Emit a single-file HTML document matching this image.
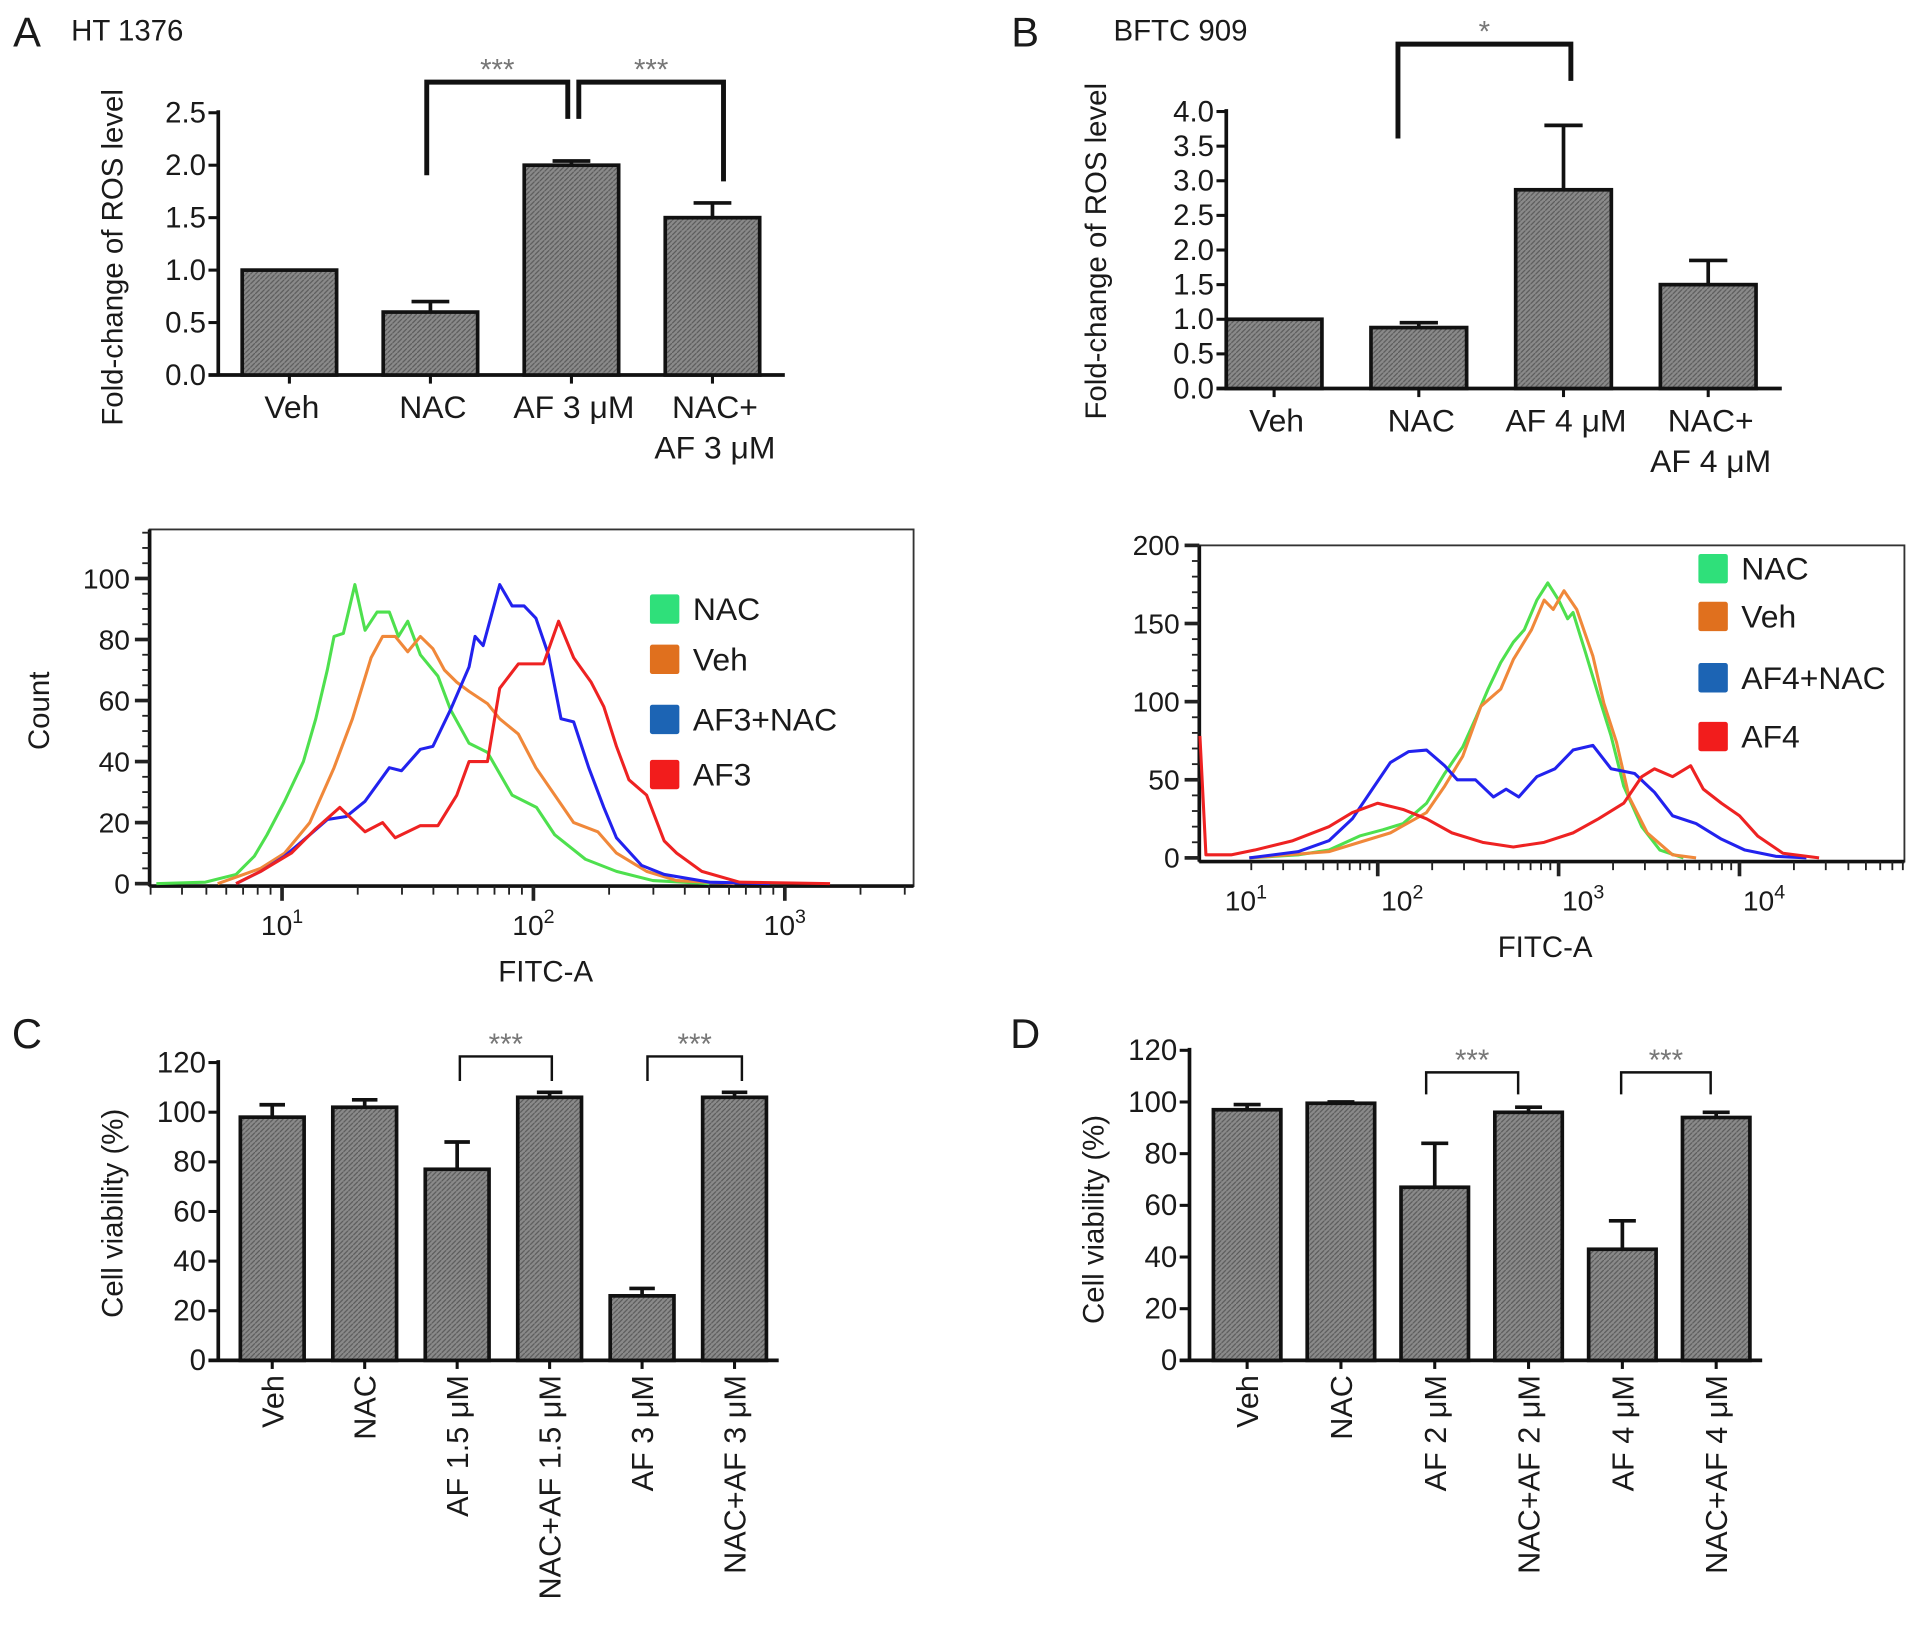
<!DOCTYPE html>
<html><head><meta charset="utf-8"><title>ROS and cell viability figure</title>
<style>
html,body{margin:0;padding:0;background:#fff;}
svg{display:block;font-family:"Liberation Sans",sans-serif;}
</style></head>
<body>
<svg id="fig" width="1913" height="1630" viewBox="0 0 1560 1330" preserveAspectRatio="none" xmlns="http://www.w3.org/2000/svg">
<defs>
<pattern id="hatch" width="4" height="4" patternUnits="userSpaceOnUse">
<rect width="4" height="4" fill="#8a8a8a"/><path d="M0,4 L4,0" stroke="#5a5a5a" stroke-width="1"/>
</pattern>
</defs>
</svg>
<script>
// ---------- Panel A bar data ----------
const aCats = ["Veh","NAC","AF 3 \u03bcM","NAC+|AF 3 \u03bcM"];
const aVals = [1.0, 0.6, 2.0, 1.5];
const aErrs = [0, 0.1, 0.04, 0.14];
const aTicks = [0,0.5,1.0,1.5,2.0,2.5];
// ---------- Panel B bar data ----------
const bCats = ["Veh","NAC","AF 4 \u03bcM","NAC+|AF 4 \u03bcM"];
const bVals = [1.0, 0.88, 2.87, 1.5];
const bErrs = [0, 0.07, 0.93, 0.35];
const bTicks = [0,0.5,1.0,1.5,2.0,2.5,3.0,3.5,4.0];
// ---------- Panel C bar data ----------
const cCats = ["Veh","NAC","AF 1.5 \u03bcM","NAC+AF 1.5 \u03bcM","AF 3 \u03bcM","NAC+AF 3 \u03bcM"];
const cVals = [98, 102, 77, 106, 26, 106];
const cErrs = [5, 3, 11, 2, 3, 2];
const cTicks = [0,20,40,60,80,100,120];
// ---------- Panel D bar data ----------
const dCats = ["Veh","NAC","AF 2 \u03bcM","NAC+AF 2 \u03bcM","AF 4 \u03bcM","NAC+AF 4 \u03bcM"];
const dVals = [97, 99.5, 67, 96, 43, 94];
const dErrs = [2, 0.5, 17, 2, 11, 2];
const dTicks = [0,20,40,60,80,100,120];
// ---------- Histogram A (log10 FITC, count) ----------
const hAticks = [0,20,40,60,80,100];
const hAxTicks = [1,2,3];
const hANacLog = [0.5,0.695,0.817,0.89,0.94,1.01,1.085,1.134,1.18,1.207,1.244,1.29,1.33,1.378,1.427,1.463,1.5,1.55,1.62,1.67,1.744,1.817,1.915,2.012,2.085,2.207,2.33,2.475,2.7];
const hANacCnt = [0,0.5,3,9,16,27,40,54,70,81,82,98,83,89,89,81,86,75,68,57,46,43,29,25,16,8,4,1,0];
const hAVehLog = [0.744,0.915,1.01,1.11,1.207,1.28,1.354,1.4,1.45,1.5,1.55,1.6,1.646,1.695,1.744,1.817,1.866,1.94,2.01,2.085,2.16,2.256,2.33,2.45,2.57,2.8];
const hAVehCnt = [0,5,10,20,38,54,74,81,81,76,81,77,70,66,63,59,54,49,38,29,20,17,10,4,1,0];
const hABlueLog = [0.817,0.915,1.01,1.11,1.18,1.256,1.33,1.427,1.475,1.55,1.6,1.67,1.744,1.768,1.8,1.866,1.915,1.963,2.01,2.06,2.11,2.16,2.22,2.28,2.33,2.43,2.52,2.7,2.94];
const hABlueCnt = [0,4,9,16,21,22,27,38,37,44,45,57,71,81,78,98,91,91,87,75,54,53,38,25,15,6,3,0.5,0];
const hARedLog = [0.817,0.915,1.037,1.134,1.23,1.33,1.4,1.45,1.55,1.62,1.695,1.744,1.817,1.866,1.94,2.04,2.1,2.16,2.23,2.28,2.33,2.38,2.45,2.52,2.57,2.67,2.82,3.18];
const hARedCnt = [0,4,10,18,25,17,20,15,19,19,29,40,40,64,72,72,86,74,66,58,45,34,29,14,10,4,0.5,0];
// ---------- Histogram B ----------
const hBticks = [0,50,100,150,200];
const hBxTicks = [1,2,3,4];
const hBNacLog = [1.29,1.56,1.73,1.9,2.03,2.14,2.27,2.37,2.47,2.54,2.61,2.68,2.75,2.81,2.88,2.94,3.0,3.05,3.08,3.15,3.22,3.29,3.36,3.46,3.56,3.69];
const hBNacCnt = [0,2,5,14,18,22,35,54,71,89,108,125,138,146,165,176,165,153,157,131,104,78,46,20,5,0];
const hBVehLog = [1.29,1.73,2.07,2.27,2.37,2.47,2.57,2.68,2.75,2.85,2.92,2.97,3.03,3.1,3.19,3.25,3.32,3.39,3.49,3.63,3.76];
const hBVehCnt = [0,4,16,29,46,65,97,108,127,146,165,159,171,159,129,99,74,39,16,2,0];
const hBBlueLog = [1.29,1.56,1.73,1.86,1.97,2.07,2.17,2.27,2.37,2.44,2.54,2.64,2.71,2.78,2.88,2.98,3.08,3.19,3.29,3.42,3.53,3.63,3.76,3.9,4.03,4.2,4.37];
const hBBlueCnt = [0,4,11,25,44,61,68,69,59,50,50,39,44,39,52,57,69,72,57,54,42,27,22,12,5,1,0];
const hBRedLog = [1.017,1.05,1.19,1.32,1.53,1.73,1.86,2.0,2.14,2.27,2.41,2.58,2.75,2.92,3.08,3.22,3.36,3.46,3.53,3.63,3.73,3.8,3.9,4.0,4.1,4.24,4.44];
const hBRedCnt = [78,2,2,5,11,20,29,35,31,25,16,10,7,10,16,25,35,52,57,52,59,44,35,27,14,3,0];

const NS = "http://www.w3.org/2000/svg";
const svg = document.getElementById("fig");
function mk(tag, attrs, parent){
  const e = document.createElementNS(NS, tag);
  for (const k in attrs) e.setAttribute(k, attrs[k]);
  (parent || svg).appendChild(e);
  return e;
}
function txt(str, x, y, size, anchor, parent){
  const t = mk("text", {x:x, y:y, "font-size":size, "text-anchor":anchor||"middle", fill:"#1a1a1a"}, parent);
  t.textContent = str;
  return t;
}
function supTxt(base, exp, x, y, parent){
  const t = mk("text", {x:x, y:y, "font-size":23, "text-anchor":"middle", fill:"#1a1a1a"}, parent);
  const s1 = mk("tspan", {}, t); s1.textContent = base;
  const s2 = mk("tspan", {dy:-10, "font-size":16}, t); s2.textContent = exp;
  return t;
}

// ---------- Bar chart ----------
function barChart(cfg, cats, vals, errs, ticks){
  const g = mk("g", {});
  
  
  const ys = v => cfg.y0 - (v - ticks[0]) / (ticks[ticks.length-1] - ticks[0]) * (cfg.y0 - cfg.yTop);
  const xs = i => cfg.cx0 + i * cfg.step;
  const ya = mk("line", {x1:cfg.ax, y1:cfg.yTop-2, x2:cfg.ax, y2:cfg.y0, stroke:"#111", "stroke-width":3}, g);
  
  
  const xa = mk("line", {x1:cfg.ax-8, y1:cfg.y0, x2:cfg.axEnd, y2:cfg.y0, stroke:"#111", "stroke-width":3}, g);
  
  
  ticks.forEach(t => {
    mk("line", {x1:cfg.ax-8, y1:ys(t), x2:cfg.ax, y2:ys(t), stroke:"#111", "stroke-width":2.5}, g);
    const tl = txt(cfg.fmt(t), cfg.ax-10, ys(t)+8, 24, "end", g);
    
    
  });
  vals.forEach((v,i) => {
    const cx = xs(i);
    const b = mk("rect", {x:cx-cfg.bw/2, y:ys(v), width:cfg.bw, height:cfg.y0-ys(v), fill:"url(#hatch)", stroke:"#111", "stroke-width":3}, g);
    
    
    if (errs[i] > 0){
      const eb = mk("path", {d:`M${cx},${ys(v)} V${ys(v+errs[i])} M${cx-cfg.bw*0.2},${ys(v+errs[i])} H${cx+cfg.bw*0.2}`, stroke:"#111", "stroke-width":3, fill:"none"}, g);
      
      
    }
    mk("line", {x1:cx, y1:cfg.y0, x2:cx, y2:cfg.y0+7, stroke:"#111", "stroke-width":2.5}, g);
    if (cfg.rotated){
      const t = txt(cats[i], 0, 0, 25, "end", g);
      t.setAttribute("transform", `translate(${cx+9},${cfg.y0+12}) rotate(-90)`);
      
      
    } else {
      cats[i].split("|").forEach((line, k) => {
        const t = txt(line, cx+2, cfg.y0+35+k*33, 26, "middle", g);
        
        
      });
    }
  });
  const yt = txt(cfg.ytitle, 0, 0, 24, "middle", g);
  yt.setAttribute("transform", `translate(${cfg.ytx},${cfg.yty}) rotate(-90)`);
  
  
  return {g, xs, ys};
}
function bracket(g, x1, x2, yTop, leg1, leg2, stars, sw){
  const p = mk("path", {d:`M${x1},${leg1} V${yTop} H${x2} V${leg2}`, stroke:"#111", "stroke-width":sw, fill:"none"}, g);
  
  
  const s = txt(stars, (x1+x2)/2, yTop-2, 24, "middle", g);
  s.setAttribute("fill", "#777");
  
  
}

[["A",22,38],["B",836,38],["C",22,855],["D",836,855]].forEach(p => {
  const t = txt(p[0], p[1], p[2], 34, "middle");
  
  
});
const tA = txt("HT 1376", 58, 33, 24, "start");


const tB = txt("BFTC 909", 908, 33, 24, "start");



const A = barChart({name:"ros-bar-chart-a", ax:178, axEnd:640, y0:306, yTop:92, cx0:236, step:115, bw:77, fmt:v=>v.toFixed(1), ytitle:"Fold-change of ROS level", ytx:100, yty:210}, aCats, aVals, aErrs, aTicks);
bracket(A.g, 348, 463, 67, 143, 97, "***", 4);
bracket(A.g, 472, 590, 67, 97, 148, "***", 4);
const B = barChart({name:"ros-bar-chart-b", ax:1000, axEnd:1453, y0:317, yTop:91, cx0:1039, step:118, bw:78, fmt:v=>v.toFixed(1), ytitle:"Fold-change of ROS level", ytx:902, yty:205}, bCats, bVals, bErrs, bTicks);
bracket(B.g, 1140, 1281, 36, 113, 66, "*", 4);
const C = barChart({name:"viability-bar-chart-c", ax:178, axEnd:635, y0:1110, yTop:867, cx0:222, step:75.4, bw:52, fmt:v=>String(v), ytitle:"Cell viability (%)", ytx:100, yty:990, rotated:true}, cCats, cVals, cErrs, cTicks);
bracket(C.g, 375, 450, 862, 882, 882, "***", 2);
bracket(C.g, 528, 605, 862, 882, 882, "***", 2);
const D = barChart({name:"viability-bar-chart-d", ax:970, axEnd:1437, y0:1110, yTop:857, cx0:1017, step:76.5, bw:55, fmt:v=>String(v), ytitle:"Cell viability (%)", ytx:900, yty:995, rotated:true}, dCats, dVals, dErrs, dTicks);
bracket(D.g, 1163, 1238, 875, 893, 893, "***", 2);
bracket(D.g, 1322, 1395, 875, 893, 893, "***", 2);

// ---------- Histograms ----------
function histo(cfg, yticks, xticks, series){
  const g = mk("g", {});
  
  
  const ys = v => cfg.y0 - v / yticks[yticks.length-1] * (cfg.y0 - cfg.yMaxPx);
  const xs = l => cfg.x1 + (l - 1) * cfg.dec;
  const fr = mk("rect", {x:cfg.L, y:cfg.T, width:cfg.R-cfg.L, height:cfg.B-cfg.T, fill:"none", stroke:"#333", "stroke-width":1.5}, g);
  
  
  mk("line", {x1:cfg.L, y1:cfg.T, x2:cfg.L, y2:cfg.B, stroke:"#111", "stroke-width":3}, g);
  mk("line", {x1:cfg.L, y1:cfg.B, x2:cfg.R, y2:cfg.B, stroke:"#111", "stroke-width":3}, g);
  for (let v = 0; ys(v) >= cfg.T; v += cfg.minor){
    const major = yticks.indexOf(v) >= 0;
    mk("line", {x1:cfg.L-(major?12:6), y1:ys(v), x2:cfg.L, y2:ys(v), stroke:"#222", "stroke-width":major?3:1.5}, g);
  }
  yticks.forEach(v => {
    const t = txt(String(v), cfg.L-16, ys(v)+8, 23, "end", g);
    
    
  });
  for (let d = -1; d <= 5; d++){
    for (let m = 1; m <= 9; m++){
      const x = xs(d + Math.log10(m));
      if (x < cfg.L || x > cfg.R) continue;
      mk("line", {x1:x, y1:cfg.B, x2:x, y2:cfg.B+(m===1?12:7), stroke:"#222", "stroke-width":m===1?3:1.5}, g);
    }
  }
  xticks.forEach(d => {
    const t = supTxt("10", String(d), xs(d)+cfg.lblOff+(d===1?cfg.firstOff:0), cfg.B+40, g);
    
    
  });
  const xt = txt("FITC-A", cfg.xtx, cfg.B+78, 24, "middle", g);
  
  
  if (cfg.ytitle){
    const yt = txt(cfg.ytitle, 0, 0, 24, "middle", g);
    yt.setAttribute("transform", `translate(${cfg.ytx},${cfg.yty}) rotate(-90)`);
    
    
  }
  series.forEach((s) => {
    const d = s.logs.map((l,i) => (i?"L":"M") + xs(l).toFixed(1) + "," + ys(s.cnts[i]).toFixed(1)).join(" ");
    const p = mk("path", {d:d, fill:"none", stroke:s.color, "stroke-width":2.5, "stroke-linejoin":"round"}, g);
    
    
  });
  cfg.legend.forEach((k) => {
    const s = series.find(q => q.label === k[0]);
    const sq = mk("rect", {x:cfg.legX, y:k[1]-12, width:24, height:24, rx:2, fill:s.legColor}, g);
    
    
    const t = txt(k[0], cfg.legX+35, k[1]+9, 26, "start", g);
    
    
  });
}
histo({name:"flow-histogram-a", L:122, R:745, T:432, B:723, y0:721, yMaxPx:472, minor:5, x1:230, dec:205, lblOff:0, firstOff:0, xtx:445, ytitle:"Count", ytx:40, yty:580, legX:530,
  legend:[["NAC",497],["Veh",538],["AF3+NAC",587],["AF3",632]]}, hAticks, hAxTicks, [
  {key:"nac", label:"NAC", color:"#4ee04e", legColor:"#2fe07a", logs:hANacLog, cnts:hANacCnt},
  {key:"veh", label:"Veh", color:"#f0883a", legColor:"#e0701e", logs:hAVehLog, cnts:hAVehCnt},
  {key:"af3-nac", label:"AF3+NAC", color:"#2222ee", legColor:"#1c64b4", logs:hABlueLog, cnts:hABlueCnt},
  {key:"af3", label:"AF3", color:"#ee2222", legColor:"#f21c1c", logs:hARedLog, cnts:hARedCnt}]);
histo({name:"flow-histogram-b", L:978, R:1553, T:445, B:703, y0:700, yMaxPx:445, minor:10, x1:976, dec:147.5, lblOff:20, firstOff:20, xtx:1260, ytitle:"", legX:1385,
  legend:[["NAC",464],["Veh",503],["AF4+NAC",553],["AF4",601]]}, hBticks, hBxTicks, [
  {key:"nac", label:"NAC", color:"#4ee04e", legColor:"#2fe07a", logs:hBNacLog, cnts:hBNacCnt},
  {key:"veh", label:"Veh", color:"#f0883a", legColor:"#e0701e", logs:hBVehLog, cnts:hBVehCnt},
  {key:"af4-nac", label:"AF4+NAC", color:"#2222ee", legColor:"#1c64b4", logs:hBBlueLog, cnts:hBBlueCnt},
  {key:"af4", label:"AF4", color:"#ee2222", legColor:"#f21c1c", logs:hBRedLog, cnts:hBRedCnt}]);
</script>
</body></html>
